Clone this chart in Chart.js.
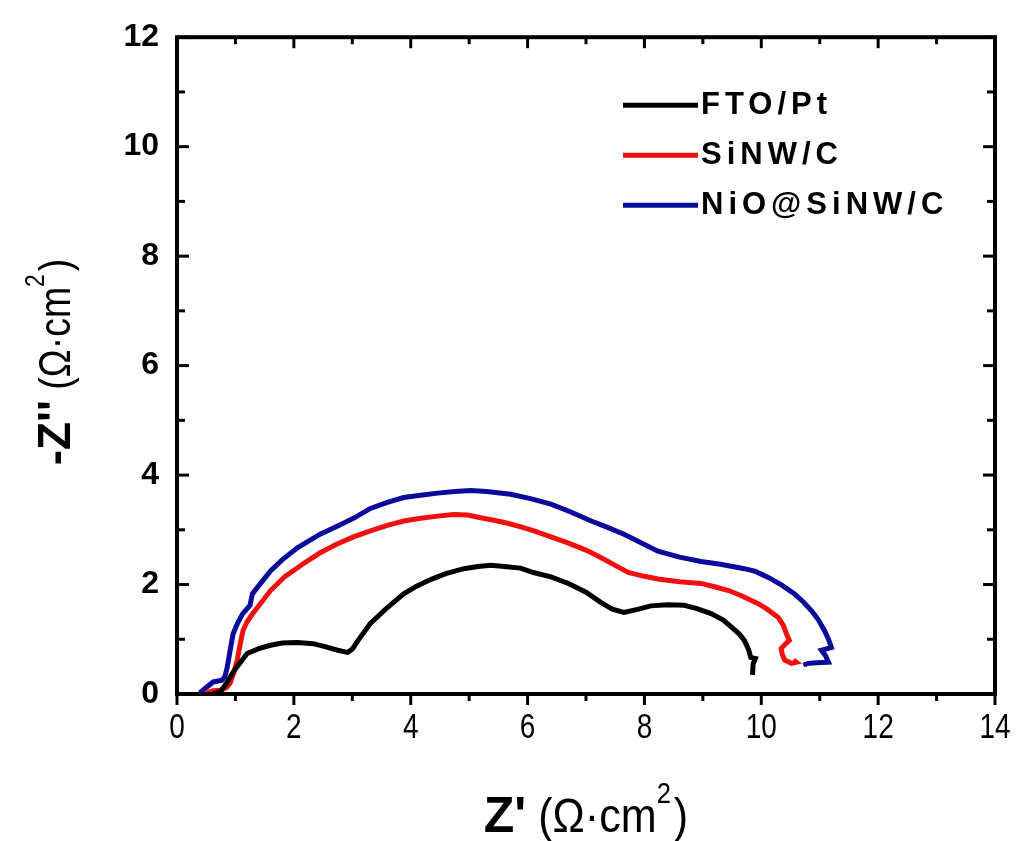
<!DOCTYPE html>
<html>
<head>
<meta charset="utf-8">
<script src="https://cdn.jsdelivr.net/npm/chart.js@4/dist/chart.umd.min.js"></script>
<style>
  html, body { margin: 0; padding: 0; background: #fff; }
  canvas { display: block; }
</style>
</head>
<body>
<canvas id="eisChart" width="1019" height="841"></canvas>
<script>
// Nyquist plot data, Z' and -Z'' in ohm·cm²
const seriesNames = ["FTO/Pt", "SiNW/C", "NiO@SiNW/C"];
const seriesColors = ["#000000", "#f01010", "#0a0a9c"];

const ftoX = [0.62, 0.75, 0.85, 0.96, 1.1, 1.2, 1.4, 1.6, 1.8, 2.06, 2.33, 2.55, 2.75, 2.92, 3.0, 3.1, 3.31, 3.6, 3.88, 4.1, 4.34, 4.6, 4.91, 5.15, 5.37, 5.6, 5.88, 6.1, 6.4, 6.7, 7.0, 7.26, 7.45, 7.65, 7.9, 8.11, 8.4, 8.68, 8.9, 9.14, 9.35, 9.49, 9.62, 9.71, 9.78, 9.82, 9.9, 9.86, 9.85];
const ftoY = [0.0, 0.05, 0.2, 0.4, 0.6, 0.74, 0.83, 0.89, 0.93, 0.94, 0.92, 0.86, 0.8, 0.76, 0.82, 0.98, 1.29, 1.58, 1.83, 1.97, 2.09, 2.2, 2.29, 2.33, 2.35, 2.33, 2.3, 2.22, 2.14, 2.02, 1.86, 1.67, 1.55, 1.49, 1.55, 1.61, 1.63, 1.62, 1.56, 1.47, 1.35, 1.22, 1.1, 0.98, 0.82, 0.67, 0.65, 0.55, 0.35];

const sinwX = [0.5, 0.62, 0.74, 0.85, 0.91, 0.97, 1.03, 1.08, 1.13, 1.2, 1.29, 1.45, 1.6, 1.85, 2.16, 2.45, 2.74, 3.02, 3.31, 3.6, 3.88, 4.17, 4.46, 4.73, 4.98, 5.15, 5.4, 5.66, 5.9, 6.11, 6.4, 6.69, 7.0, 7.26, 7.5, 7.72, 8.0, 8.23, 8.6, 8.97, 9.2, 9.44, 9.65, 9.83, 9.95, 10.1, 10.29, 10.38, 10.43, 10.48, 10.4, 10.34, 10.36, 10.4, 10.52, 10.6, 10.55];
const sinwY = [0.02, 0.06, 0.07, 0.12, 0.2, 0.38, 0.62, 0.9, 1.16, 1.32, 1.46, 1.68, 1.89, 2.15, 2.38, 2.58, 2.74, 2.87, 2.98, 3.08, 3.16, 3.21, 3.25, 3.28, 3.27, 3.23, 3.18, 3.12, 3.05, 2.98, 2.87, 2.76, 2.63, 2.49, 2.35, 2.22, 2.15, 2.1, 2.05, 2.02, 1.96, 1.89, 1.8, 1.71, 1.65, 1.55, 1.4, 1.25, 1.1, 0.98, 0.9, 0.83, 0.72, 0.62, 0.56, 0.58, 0.62];

const nioX = [0.39, 0.5, 0.62, 0.77, 0.82, 0.86, 0.91, 0.96, 1.04, 1.12, 1.2, 1.25, 1.29, 1.4, 1.6, 1.8, 2.06, 2.45, 2.75, 3.02, 3.31, 3.6, 3.88, 4.17, 4.46, 4.75, 5.03, 5.3, 5.71, 6.05, 6.4, 6.75, 7.09, 7.38, 7.65, 7.95, 8.23, 8.6, 8.97, 9.3, 9.6, 9.71, 9.9, 10.12, 10.35, 10.57, 10.72, 10.86, 10.98, 11.08, 11.15, 11.2, 11.1, 11.03, 11.1, 11.15, 10.95, 10.8, 10.72];
const nioY = [0.02, 0.12, 0.22, 0.25, 0.32, 0.49, 0.8, 1.1, 1.3, 1.46, 1.56, 1.62, 1.83, 1.98, 2.25, 2.45, 2.67, 2.92, 3.07, 3.21, 3.39, 3.5, 3.59, 3.63, 3.67, 3.7, 3.72, 3.7, 3.65, 3.57, 3.47, 3.32, 3.16, 3.04, 2.92, 2.76, 2.61, 2.5, 2.42, 2.37, 2.31, 2.29, 2.24, 2.13, 1.99, 1.83, 1.68, 1.52, 1.35, 1.16, 1.0, 0.85, 0.82, 0.8, 0.7, 0.58, 0.57, 0.56, 0.53];

const xMajorTicks = [0, 2, 4, 6, 8, 10, 12, 14];
const xMinorTicks = [1, 3, 5, 7, 9, 11, 13];
const yMajorTicks = [0, 2, 4, 6, 8, 10, 12];
const yMinorTicks = [1, 3, 5, 7, 9, 11];

const SANS = '"Liberation Sans", Arial, sans-serif';

function toPoints(xs, ys) {
  return xs.map((x, i) => ({ x: x, y: ys[i] }));
}

const seriesPoints = [toPoints(ftoX, ftoY), toPoints(sinwX, sinwY), toPoints(nioX, nioY)];

// text made of runs, each with its own font, vertical offset and horizontal squeeze
function drawRuns(ctx, runs, cx, baseY, vertical) {
  ctx.save();
  ctx.fillStyle = "#000";
  ctx.textBaseline = "alphabetic";
  ctx.textAlign = "left";
  let total = 0;
  const widths = runs.map(r => {
    ctx.font = r.font;
    const w = ctx.measureText(r.t).width * (r.sx || 1) + (r.gap || 0);
    total += w;
    return w;
  });
  if (vertical) {
    ctx.translate(baseY, cx);
    ctx.rotate(-Math.PI / 2);
  } else {
    ctx.translate(cx, baseY);
  }
  let x = -total / 2;
  runs.forEach((r, i) => {
    ctx.font = r.font;
    ctx.save();
    ctx.translate(x, r.dy || 0);
    ctx.scale(r.sx || 1, 1);
    ctx.fillText(r.t, 0, 0);
    ctx.restore();
    x += widths[i];
  });
  ctx.restore();
}

// frame, tick marks, x tick labels, axis titles and the legend box
const framePlugin = {
  id: "frame",
  afterDatasetsDraw(chart) {
    const ctx = chart.ctx;
    const a = chart.chartArea;
    const xs = chart.scales.x;
    const ys = chart.scales.y;
    ctx.save();
    ctx.strokeStyle = "#000";
    ctx.lineWidth = 3;
    ctx.lineCap = "butt";
    const tick = (x1, y1, x2, y2) => {
      ctx.beginPath();
      ctx.moveTo(x1, y1);
      ctx.lineTo(x2, y2);
      ctx.stroke();
    };
    xMajorTicks.forEach(v => {
      const px = xs.getPixelForValue(v);
      tick(px, a.bottom, px, a.bottom + 11);
      tick(px, a.top, px, a.top + 11);
    });
    xMinorTicks.forEach(v => {
      const px = xs.getPixelForValue(v);
      tick(px, a.bottom, px, a.bottom + 7);
      tick(px, a.top, px, a.top + 7);
    });
    yMajorTicks.forEach(v => {
      const py = ys.getPixelForValue(v);
      tick(a.left, py, a.left + 12, py);
      tick(a.right, py, a.right - 12, py);
    });
    yMinorTicks.forEach(v => {
      const py = ys.getPixelForValue(v);
      tick(a.left, py, a.left + 8, py);
      tick(a.right, py, a.right - 8, py);
    });
    ctx.lineWidth = 4;
    ctx.strokeRect(a.left, a.top, a.right - a.left, a.bottom - a.top);

    // x tick labels, narrow lettering
    ctx.fillStyle = "#000";
    ctx.font = "35px " + SANS;
    ctx.textAlign = "center";
    ctx.textBaseline = "alphabetic";
    xMajorTicks.forEach(v => {
      ctx.save();
      ctx.translate(xs.getPixelForValue(v), a.bottom + 44);
      ctx.scale(0.8, 1);
      ctx.fillText(String(v), 0, 0);
      ctx.restore();
    });

    // legend inside the plot, upper right
    const lx = a.left + 446;
    let ly = a.top + 68;
    ctx.textAlign = "left";
    chart.data.datasets.forEach(ds => {
      ctx.strokeStyle = ds.borderColor;
      ctx.lineWidth = 5;
      tick(lx, ly, lx + 75, ly);
      ctx.fillStyle = "#000";
      ctx.font = "bold 31px " + SANS;
      ctx.letterSpacing = "5px";
      ctx.textBaseline = "middle";
      ctx.fillText(ds.label, lx + 78, ly);
      ly += 50;
    });
    ctx.letterSpacing = "0px";
    ctx.restore();

    // axis titles
    const midX = (a.left + a.right) / 2;
    drawRuns(ctx, [
      { t: "Z'", font: "bold 50px " + SANS },
      { t: " (\u03A9\u00B7cm", font: "49px " + SANS, sx: 0.88 },
      { t: "2", font: "29px " + SANS, dy: -29, gap: 3, sx: 0.88 },
      { t: ")", font: "49px " + SANS, sx: 0.88 }
    ], midX, 832, false);
    drawRuns(ctx, [
      { t: "-Z''", font: "bold 46px " + SANS },
      { t: " (\u03A9\u00B7cm", font: "44px " + SANS, sx: 0.85 },
      { t: "2", font: "27px " + SANS, dy: -26, gap: 3, sx: 0.85 },
      { t: ")", font: "44px " + SANS, sx: 0.85 }
    ], 362, 70, true);
  }
};

const ctx = document.getElementById("eisChart").getContext("2d");

new Chart(ctx, {
  type: "scatter",
  data: {
    datasets: seriesNames.map((name, i) => ({
      label: name,
      data: seriesPoints[i],
      showLine: true,
      borderColor: seriesColors[i],
      backgroundColor: seriesColors[i],
      borderWidth: 5,
      pointRadius: 0,
      tension: 0,
      fill: false
    }))
  },
  options: {
    responsive: false,
    animation: false,
    layout: { padding: { top: 33, right: 24, left: 0, bottom: 0 } },
    plugins: {
      legend: { display: false },
      tooltip: { enabled: false }
    },
    scales: {
      x: {
        type: "linear",
        min: 0,
        max: 14,
        afterFit: s => { s.height = 147; },
        afterBuildTicks: s => { s.ticks = xMajorTicks.map(v => ({ value: v })); },
        grid: { display: false, drawTicks: false },
        border: { display: false },
        ticks: { display: false }
      },
      y: {
        type: "linear",
        min: 0,
        max: 12,
        afterFit: s => { s.width = 177; },
        afterBuildTicks: s => { s.ticks = yMajorTicks.map(v => ({ value: v })); },
        grid: { display: false, drawTicks: false },
        border: { display: false },
        ticks: {
          color: "#000",
          padding: 18,
          font: { family: SANS, size: 32, weight: "bold" }
        }
      }
    }
  },
  plugins: [framePlugin]
});
</script>
</body>
</html>
